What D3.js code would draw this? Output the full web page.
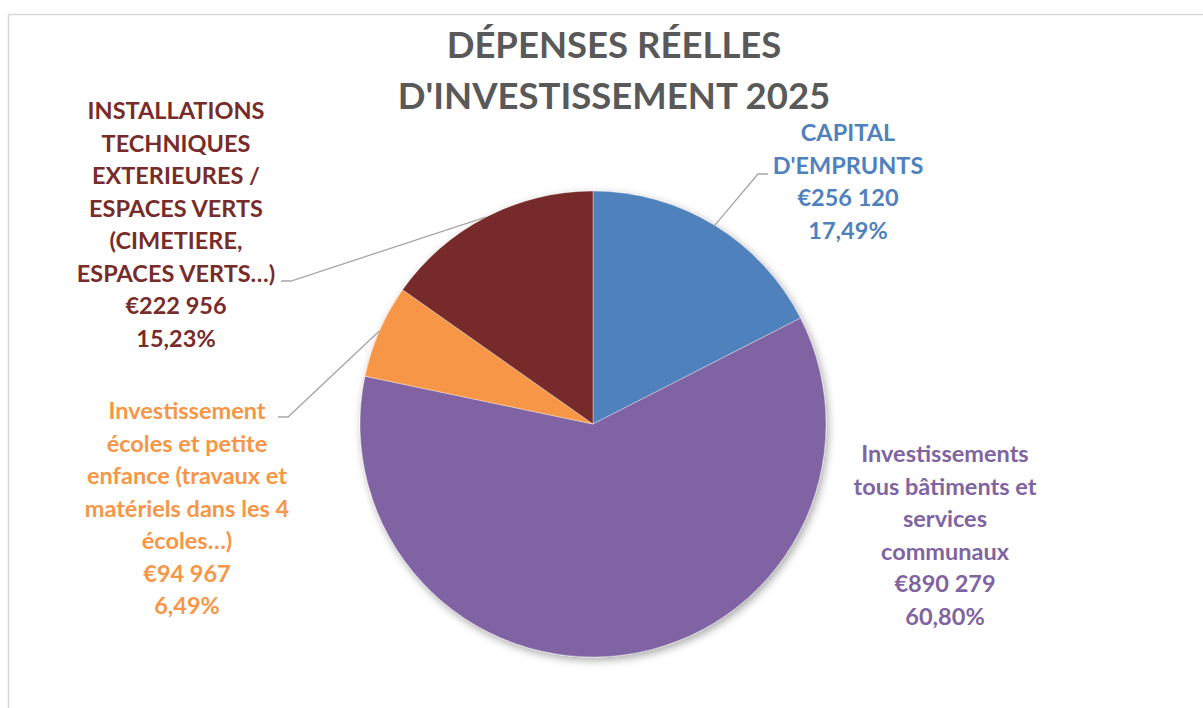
<!DOCTYPE html>
<html>
<head>
<meta charset="utf-8">
<script src="https://cdn.jsdelivr.net/npm/d3@7"></script>
<style>
  html, body { margin: 0; padding: 0; background: #fff; }
  svg { display: block; }
</style>
</head>
<body>
<svg id="chart" width="1203" height="708"></svg>
<script>
// ---- data ----
const categories = [
  "CAPITAL D'EMPRUNTS",
  "Investissements tous bâtiments et services communaux",
  "Investissement écoles et petite enfance (travaux et matériels dans les 4 écoles…)",
  "INSTALLATIONS TECHNIQUES EXTERIEURES / ESPACES VERTS (CIMETIERE, ESPACES VERTS…)"
];
const values = [256120, 890279, 94967, 222956];
const labelLines = [
  ["CAPITAL", "D'EMPRUNTS"],
  ["Investissements", "tous bâtiments et", "services", "communaux"],
  ["Investissement", "écoles et petite", "enfance (travaux et", "matériels dans les 4", "écoles…)"],
  ["INSTALLATIONS", "TECHNIQUES", "EXTERIEURES /", "ESPACES VERTS", "(CIMETIERE,", "ESPACES VERTS…)"]
];
const titleLines = ["DÉPENSES RÉELLES", "D'INVESTISSEMENT 2025"];

// ---- styles / layout ----
const colors = ["#4F81BD", "#8064A2", "#F79646", "#772C2A"];
const cx = 593, cy = 424, R = 233;
const fontFamily = "Lato, 'Open Sans', sans-serif";
const labelFontSize = 23.5, lineH = 32.5;
// label block anchor: centre x, baseline of first line, leader line attach point (x,y) or null
const labelLayout = [
  { x: 848, y: 141, leader: { x: 768, y: 174, dir: -1 } },
  { x: 945, y: 462, leader: null },
  { x: 187, y: 419, leader: { x: 278, y: 417, dir: 1 } },
  { x: 176, y: 119, leader: { x: 281, y: 281, dir: 1 } }
];

const svg = d3.select("#chart");

// border
svg.append("rect")
  .attr("x", 8.5).attr("y", 14.5)
  .attr("width", 1200).attr("height", 700)
  .attr("fill", "none").attr("stroke", "#D9D9D9").attr("stroke-width", 1.5);

// shadow filter
const defs = svg.append("defs");
const f = defs.append("filter").attr("id", "shadow")
  .attr("x", "-20%").attr("y", "-20%").attr("width", "140%").attr("height", "140%");
f.append("feGaussianBlur").attr("in", "SourceAlpha").attr("stdDeviation", 4).attr("result", "blur");
f.append("feOffset").attr("in", "blur").attr("dx", 2).attr("dy", 3).attr("result", "off");
f.append("feComponentTransfer").attr("in", "off").attr("result", "sh")
  .append("feFuncA").attr("type", "linear").attr("slope", 0.35);
const merge = f.append("feMerge");
merge.append("feMergeNode").attr("in", "sh");
merge.append("feMergeNode").attr("in", "SourceGraphic");

// title
const title = svg.append("text")
  .attr("text-anchor", "middle")
  .attr("font-family", fontFamily)
  .attr("font-weight", 700)
  .attr("font-size", 36.5)
  .attr("fill", "#595959");
titleLines.forEach((t, i) => {
  title.append("tspan").attr("x", 614).attr("y", 58 + i * 51).text(t);
});

// pie
const pie = d3.pie().sort(null).value(d => d)(values);
const arc = d3.arc().innerRadius(0).outerRadius(R);
const g = svg.append("g").attr("transform", `translate(${cx},${cy})`).attr("filter", "url(#shadow)");
g.selectAll("path").data(pie).join("path")
  .attr("d", arc)
  .attr("fill", (d, i) => colors[i])
  .attr("stroke", "rgba(255,255,255,0.45)")
  .attr("stroke-width", 0.8);

// labels
const total = d3.sum(values);
const loc = d3.formatLocale({ decimal: ",", thousands: " ", grouping: [3], currency: ["€", ""] });
const fmtVal = loc.format("$,.0f");
const fmtPct = loc.format(".2%");
const edge = d3.arc().innerRadius(R).outerRadius(R);

pie.forEach((d, i) => {
  const L = labelLayout[i];
  if (L.leader) {
    const [ex, ey] = edge.centroid(d);
    svg.append("path")
      .attr("d", `M${L.leader.x},${L.leader.y} L${L.leader.x + L.leader.dir * 10},${L.leader.y} L${cx + ex},${cy + ey}`)
      .attr("fill", "none").attr("stroke", "#A6A6A6").attr("stroke-width", 1.3);
  }
  const lines = labelLines[i].concat([fmtVal(values[i]), fmtPct(values[i] / total)]);
  const t = svg.append("text")
    .attr("text-anchor", "middle")
    .attr("font-family", fontFamily)
    .attr("font-weight", 700)
    .attr("font-size", labelFontSize)
    .attr("fill", colors[i]);
  lines.forEach((s, k) => {
    t.append("tspan").attr("x", L.x).attr("y", L.y + k * lineH).text(s);
  });
});
</script>
</body>
</html>
